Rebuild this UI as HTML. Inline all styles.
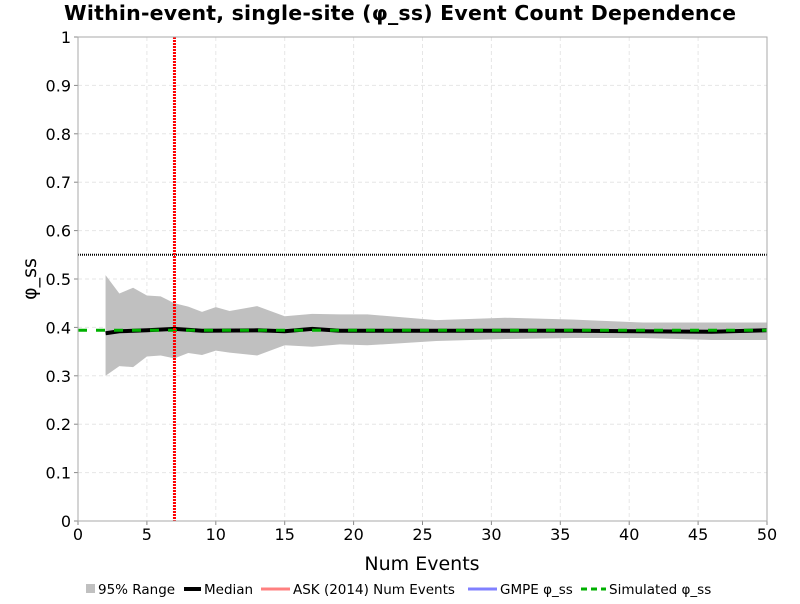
<!DOCTYPE html>
<html><head><meta charset="utf-8"><style>
body{margin:0;background:#fff;font-family:"DejaVu Sans","Liberation Sans",sans-serif;}
</style></head><body>
<svg id="chart" width="800" height="600" font-family="DejaVu Sans, Liberation Sans, sans-serif">
<text x="400" y="20" text-anchor="middle" font-size="20.5" font-weight="bold" textLength="672">Within-event, single-site (φ_ss) Event Count Dependence</text>
<g id="grid"></g><g id="marks"></g><g id="axes"></g>
<text x="422" y="570" text-anchor="middle" font-size="19">Num Events</text>
<text transform="translate(36,279) rotate(-90)" text-anchor="middle" font-size="19">φ_ss</text>
<g font-size="13.5">
<g><rect x="86" y="584" width="9" height="9" fill="#c0c0c0"/><text x="98" y="594">95% Range</text></g>
<g><line x1="184" y1="589" x2="201" y2="589" stroke="#000" stroke-width="4"/><text x="204" y="594">Median</text></g>
<g><line x1="261" y1="589" x2="290" y2="589" stroke="#ff8080" stroke-width="3"/><text x="293" y="594">ASK (2014) Num Events</text></g>
<g><line x1="468" y1="589" x2="497" y2="589" stroke="#8080ff" stroke-width="3"/><text x="500" y="594">GMPE φ_ss</text></g>
<g><line x1="581" y1="589" x2="606" y2="589" stroke="#00b000" stroke-width="3" stroke-dasharray="6,4"/><text x="609" y="594">Simulated φ_ss</text></g>
</g>
</svg>
<script>
const bandX=[2,3,4,5,6,7,8,9,10,11,13,15,17,19,21,26,31,36,41,46,50];
const bandUpper=[0.508,0.47,0.482,0.466,0.464,0.45,0.443,0.432,0.442,0.434,0.444,0.423,0.428,0.427,0.427,0.415,0.42,0.416,0.41,0.41,0.41];
const bandLower=[0.3,0.32,0.318,0.34,0.342,0.336,0.347,0.343,0.352,0.348,0.342,0.363,0.36,0.365,0.363,0.372,0.376,0.378,0.378,0.374,0.374];
const medianX=[2,3,5,7,9,13,15,17,19,26,36,46,50];
const medianY=[0.388,0.392,0.394,0.397,0.393,0.394,0.392,0.397,0.393,0.393,0.393,0.391,0.394];
const simulatedValue=0.394;
const gmpeValue=0.55;
const askNumEvents=7;
const xTicks=[0,5,10,15,20,25,30,35,40,45,50];
const yTicks=[0,0.1,0.2,0.3,0.4,0.5,0.6,0.7,0.8,0.9,1];
const X0=78,X1=767,Y0=521,Y1=37;
const sx=v=>X0+(v-0)/50*(X1-X0), sy=v=>Y0-v*(Y0-Y1);
const NS='http://www.w3.org/2000/svg';
function mk(p,t,a){const e=document.createElementNS(NS,t);for(const k in a)e.setAttribute(k,a[k]);p.appendChild(e);return e;}
const grid=document.getElementById('grid'),marks=document.getElementById('marks'),axes=document.getElementById('axes');
xTicks.forEach(t=>{const l=mk(grid,'line',{x1:sx(t),x2:sx(t),y1:Y1,y2:Y0,stroke:'#e6e6e6','stroke-dasharray':'4,3'});


const tx=mk(axes,'text',{x:sx(t),y:Y0+19,'text-anchor':'middle','font-size':16});tx.textContent=t;


mk(axes,'line',{x1:sx(t),x2:sx(t),y1:Y0,y2:Y0+4,stroke:'#888'});});
yTicks.forEach(t=>{const l=mk(grid,'line',{x1:X0,x2:X1,y1:sy(t),y2:sy(t),stroke:'#e6e6e6','stroke-dasharray':'4,3'});


const tx=mk(axes,'text',{x:X0-7,y:sy(t)+6,'text-anchor':'end','font-size':16});tx.textContent=String(t);


mk(axes,'line',{x1:X0-4,x2:X0,y1:sy(t),y2:sy(t),stroke:'#888'});});
let d=bandX.map((x,i)=>(i?'L':'M')+sx(x)+','+sy(bandUpper[i])).join('');
for(let i=bandX.length-1;i>=0;i--)d+='L'+sx(bandX[i])+','+sy(bandLower[i]);
const band=mk(marks,'path',{d:d+'Z',fill:'#c0c0c0'});


const g=mk(marks,'line',{x1:X0,x2:X1,y1:sy(gmpeValue),y2:sy(gmpeValue),stroke:'#000',"stroke-width":2,'stroke-dasharray':'1,1'});


const med=mk(marks,'polyline',{points:medianX.map((x,i)=>sx(x)+','+sy(medianY[i])).join(' '),fill:'none',stroke:'#000','stroke-width':4});


const sim=mk(marks,'line',{x1:X0,x2:X1,y1:sy(simulatedValue),y2:sy(simulatedValue),stroke:'#00b000','stroke-width':3,'stroke-dasharray':'9,9'});


const ask=mk(marks,'line',{x1:sx(askNumEvents),x2:sx(askNumEvents),y1:Y1,y2:Y0,stroke:'#ff0000','stroke-width':3,'stroke-dasharray':'2,1'});


const fr=mk(axes,'rect',{x:X0,y:Y1,width:X1-X0,height:Y0-Y1,fill:'none',stroke:'#aaa'});


</script>
</body></html>
